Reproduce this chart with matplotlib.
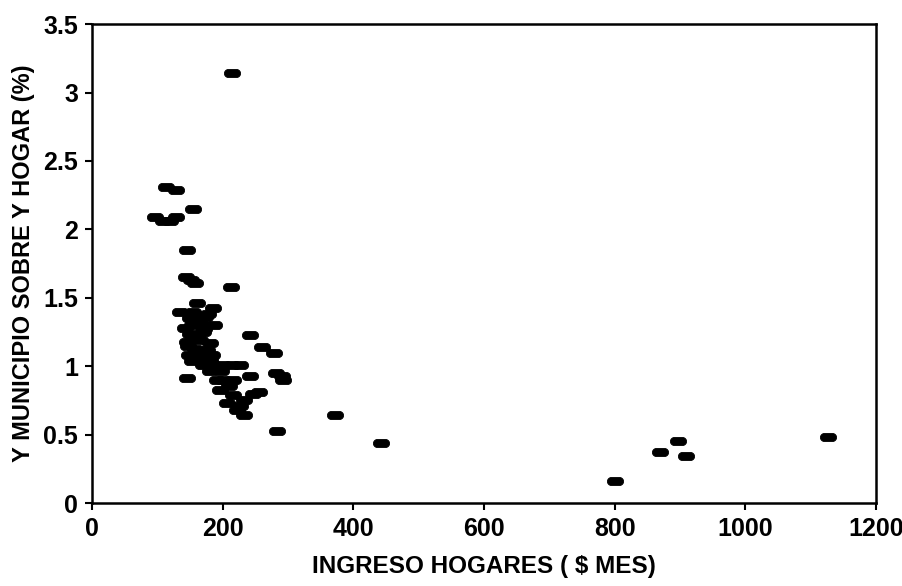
import numpy as np
import matplotlib
matplotlib.use("Agg")
import matplotlib.pyplot as plt
from matplotlib.path import Path

# household income ($/month) vs municipal tax share of household income (%)
ingreso = [
    214, 113, 128, 155, 97, 109, 119, 128,
    145, 144, 152, 158, 213, 160, 186, 135, 155,
    150, 173, 153, 170, 150, 145, 181, 158, 183, 153, 148, 165, 165,
    142, 160, 176, 168, 187, 147, 178, 162, 172, 158, 180,
    170, 185, 200, 215, 227, 181, 198,
    242, 260, 278,
    146, 242, 282, 291, 293,
    191, 201, 216, 196, 216, 232, 247, 255, 206, 227, 222, 232, 210,
    372, 283, 443,
    800, 870, 897, 909, 1127,
]
porcentaje = [
    3.14, 2.31, 2.29, 2.15, 2.09, 2.06, 2.06, 2.09,
    1.85, 1.65, 1.63, 1.61, 1.58, 1.46, 1.43, 1.40, 1.40,
    1.35, 1.36, 1.30, 1.25, 1.24, 1.18, 1.17, 1.13, 1.08, 1.04, 1.08, 1.19, 1.32,
    1.28, 1.22, 1.12, 1.06, 1.30, 1.15, 1.38, 1.10, 1.27, 1.21, 1.05,
    1.01, 1.01, 1.01, 1.01, 1.01, 0.97, 0.97,
    1.23, 1.145, 1.10,
    0.915, 0.93, 0.95, 0.93, 0.90,
    0.90, 0.90, 0.90, 0.83, 0.79, 0.755, 0.80, 0.81, 0.73, 0.71, 0.68, 0.646, 0.86,
    0.646, 0.53, 0.44,
    0.167, 0.374, 0.459, 0.347, 0.483,
]

xticks = [0, 200, 400, 600, 800, 1000, 1200]
yticks = [0, 0.5, 1, 1.5, 2, 2.5, 3, 3.5]
ytick_labels = ["0", "0.5", "1", "1.5", "2", "2.5", "3", "3.5"]

# rounded dash marker (stadium shape)
t = np.linspace(-np.pi / 2, np.pi / 2, 12)
right = np.column_stack([1.0 + np.cos(t), np.sin(t)])
left = np.column_stack([-1.0 - np.cos(t), -np.sin(t)])
verts = np.vstack([right, left, right[:1]])
dash = Path(verts, closed=True)

plt.rcParams['font.family'] = ['Liberation Sans', 'DejaVu Sans']

fig = plt.figure(figsize=(9.02, 5.86), dpi=100)
ax = fig.add_axes([0.102, 0.141, 0.869, 0.818])

ax.scatter(ingreso, porcentaje, marker=dash, s=135, c='black',
           edgecolors='black', linewidths=0.6, zorder=3)

ax.set_xlim(0, 1200)
ax.set_ylim(0, 3.5)
ax.set_xticks(xticks)
ax.set_yticks(yticks)
ax.set_yticklabels(ytick_labels)

for sp in ax.spines.values():
    sp.set_linewidth(1.8)
ax.tick_params(direction='out', length=5, width=1.5, labelsize=18, pad=5)
for lab in ax.get_xticklabels() + ax.get_yticklabels():
    lab.set_fontweight('bold')

ax.set_xlabel("INGRESO HOGARES ( $ MES)", fontsize=17.5, fontweight='bold', labelpad=10)
ax.set_ylabel("Y MUNICIPIO SOBRE Y HOGAR (%)", fontsize=17, fontweight='bold', labelpad=6)

fig.savefig("out.png", dpi=100, facecolor='white')
